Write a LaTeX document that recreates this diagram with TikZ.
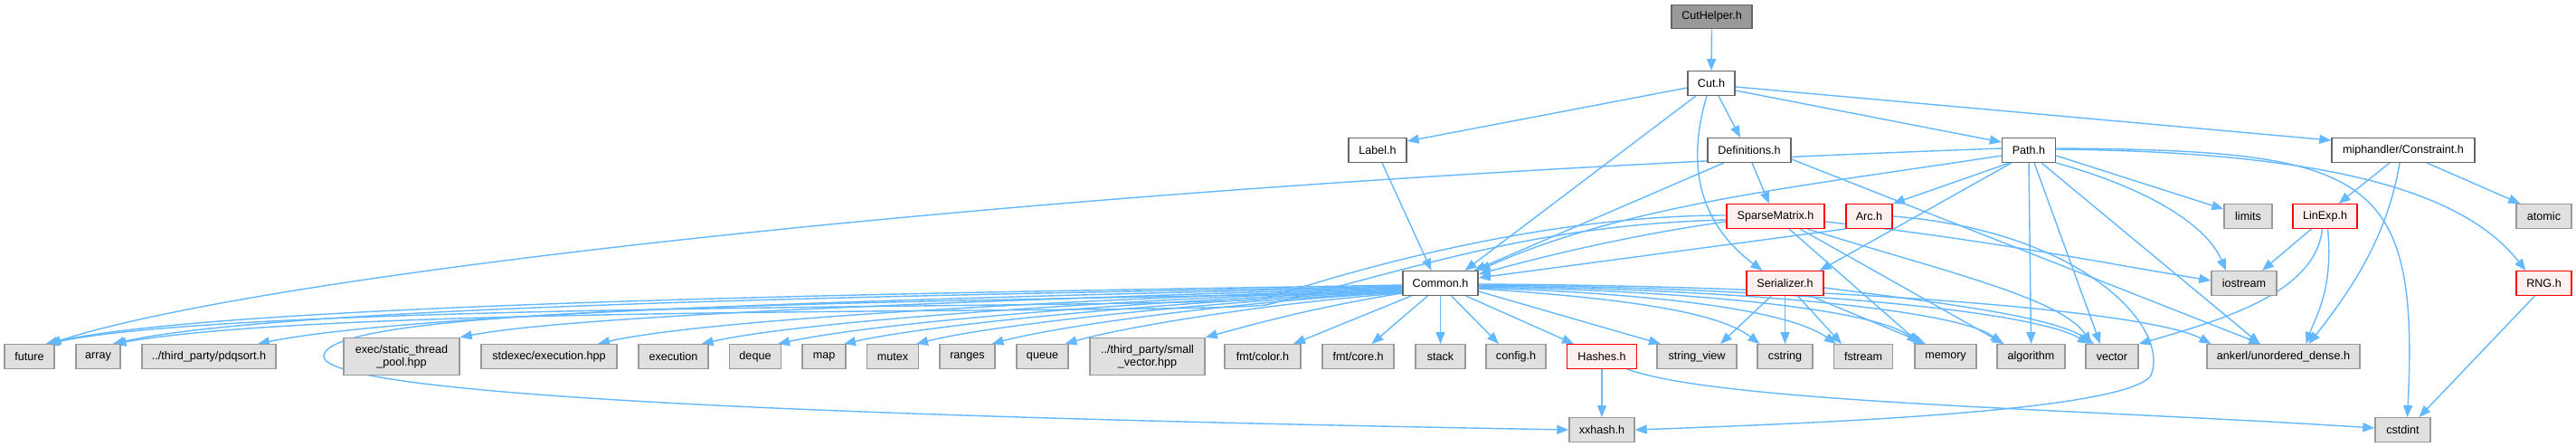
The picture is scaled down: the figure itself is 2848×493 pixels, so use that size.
\documentclass[tikz,border=0pt]{standalone}
\usepackage{fontspec}
\setmainfont{Liberation Sans}
\usetikzlibrary{arrows.meta,backgrounds}
\definecolor{edgeblue}{HTML}{63B8FF}
\definecolor{gfill}{HTML}{E0E0E0}
\definecolor{gdraw}{HTML}{999999}
\definecolor{rfill}{HTML}{FFF0F0}
\definecolor{rdraw}{HTML}{FF0000}
\definecolor{wdraw}{HTML}{666666}
\definecolor{rootfill}{HTML}{999999}
\begin{document}
\begin{tikzpicture}[x=1pt,y=-1pt,
  every node/.style={font=\fontsize{12.6}{14.5}\selectfont},
  hbox/.style={draw, line width=1.4pt, inner sep=0pt, minimum height=26.5pt, align=center, text=black},
  gbox/.style={hbox, fill=gfill, draw=gdraw},
  rbox/.style={hbox, fill=rfill, draw=rdraw},
  wbox/.style={hbox, fill=white, draw=wdraw},
  rootbox/.style={hbox, fill=rootfill, draw=wdraw},
  tall/.style={minimum height=41pt},
  link/.style={draw=edgeblue, line width=1.4pt, -{Triangle[length=13pt,width=10pt]}}
]
\useasboundingbox (0,0) rectangle (2848,493);
% row 1-2
\node[rootbox, minimum width=89pt] (cuthelper) at (1892.5,18.5) {CutHelper.h};
\node[wbox, minimum width=52pt] (cut) at (1892,92) {Cut.h};
% row 3
\node[wbox, minimum width=64pt] (label) at (1523,166) {Label.h};
\node[wbox, minimum width=92pt] (defs) at (1934,166) {Definitions.h};
\node[wbox, minimum width=59pt] (path) at (2243,166) {Path.h};
\node[wbox, minimum width=158pt] (constraint) at (2657,166) {miphandler/Constraint.h};
% row 4
\node[rbox, minimum width=108pt] (sparse) at (1963,239) {SparseMatrix.h};
\node[rbox, minimum width=51pt] (arc) at (2066.5,239) {Arc.h};
\node[gbox, minimum width=53pt] (limits) at (2485.5,239) {limits};
\node[rbox, minimum width=71pt] (linexp) at (2570.5,239) {LinExp.h};
\node[gbox, minimum width=61pt] (atomic) at (2812.5,239) {atomic};
% row 5
\node[wbox, minimum width=83pt] (common) at (1592.5,313) {Common.h};
\node[rbox, minimum width=85pt] (serializer) at (1973.5,313) {Serializer.h};
\node[gbox, minimum width=72pt] (iostream) at (2481,313) {iostream};
\node[rbox, minimum width=61pt] (rng) at (2812.5,313) {RNG.h};
% row 6
\node[gbox, minimum width=55pt] (future) at (32.5,394) {future};
\node[gbox, minimum width=49pt] (array) at (108.5,394) {array};
\node[gbox, minimum width=148pt] (pdqsort) at (231,394) {../third\_party/pdqsort.h};
\node[gbox, tall, minimum width=128pt] (execpool) at (444,394) {exec/static\_thread\\\_pool.hpp};
\node[gbox, minimum width=150pt] (stdexec) at (607,394) {stdexec/execution.hpp};
\node[gbox, minimum width=77pt] (execution) at (744.5,394) {execution};
\node[gbox, minimum width=57pt] (deque) at (835,394) {deque};
\node[gbox, minimum width=48pt] (map) at (911,394) {map};
\node[gbox, minimum width=57pt] (mutex) at (987,394) {mutex};
\node[gbox, minimum width=61pt] (ranges) at (1069.5,394) {ranges};
\node[gbox, minimum width=57pt] (queue) at (1152.5,394) {queue};
\node[gbox, tall, minimum width=127pt] (smallvec) at (1268.5,394) {../third\_party/small\\\_vector.hpp};
\node[gbox, minimum width=84pt] (fmtcolor) at (1396,394) {fmt/color.h};
\node[gbox, minimum width=79pt] (fmtcore) at (1501.5,394) {fmt/core.h};
\node[gbox, minimum width=55pt] (stack) at (1592.5,394) {stack};
\node[gbox, minimum width=66pt] (config) at (1676,394) {config.h};
\node[rbox, minimum width=77pt] (hashes) at (1771,394) {Hashes.h};
\node[gbox, minimum width=88pt] (stringview) at (1876,394) {string\_view};
\node[gbox, minimum width=61pt] (cstring) at (1973.5,394) {cstring};
\node[gbox, minimum width=65pt] (fstream) at (2060,394) {fstream};
\node[gbox, minimum width=68pt] (memory) at (2151,394) {memory};
\node[gbox, minimum width=75pt] (algorithm) at (2245.5,394) {algorithm};
\node[gbox, minimum width=58pt] (vector) at (2335,394) {vector};
\node[gbox, minimum width=169pt] (ankerl) at (2524.5,394) {ankerl/unordered\_dense.h};
% row 7
\node[gbox, minimum width=72pt] (xxhash) at (1771,475) {xxhash.h};
\node[gbox, minimum width=61pt] (cstdint) at (2656.5,475) {cstdint};

\begin{scope}[on background layer]
\fill[white] (0,0) rectangle (2848,493);
% CutHelper, Cut
\draw[link] (cuthelper.south) -- (cut.north);
\draw[link] ([yshift=-5pt]cut.west) -- ([yshift=-4pt]label.north east);
\draw[link] ([xshift=-17pt]cut.south) -- ([xshift=27pt]common.north);
\draw[link] ([xshift=8pt]cut.south) -- ([xshift=-10pt]defs.north);
\draw[link] ([xshift=-5pt]cut.south) .. controls (1868,170) and (1870,240) .. ([xshift=-25pt]serializer.north);
\draw[link] ([yshift=-8pt]cut.east) -- ([yshift=-5pt]path.north west);
\draw[link] ([yshift=-4pt]cut.east) -- ([yshift=-3pt]constraint.north west);
% Label, Definitions
\draw[link] ([xshift=5pt]label.south) -- ([xshift=-10pt]common.north);
\draw[link] ([xshift=-28pt]defs.south) -- ([xshift=37pt]common.north);
\draw[link] ([xshift=3pt]defs.south) -- ([xshift=-7pt]sparse.north);
\draw[link] ([yshift=-10pt]defs.east) -- ([xshift=-25pt]ankerl.north);
% Path
\draw[link] ([yshift=-6pt]path.west) .. controls (2000,205) and (1800,225) .. (common.north east);
\draw[link] ([yshift=2pt]path.west) .. controls (1200,200) and (300,300) .. ([xshift=22pt]future.north);
\draw[link] ([xshift=-21pt]path.south) -- (arc.north east);
\draw[link] ([xshift=-19pt]path.south) -- ([xshift=-5pt]serializer.north east);
\draw[link] (path.south) -- (algorithm.north);
\draw[link] ([xshift=6pt]path.south) -- ([xshift=-13pt]vector.north);
\draw[link] ([xshift=14pt]path.south) -- ([xshift=-26pt]ankerl.north);
\draw[link] (path.south east) .. controls (2380,210) and (2440,250) .. ([xshift=-20pt]iostream.north);
\draw[link] ([yshift=-6pt]path.east) -- ([yshift=-6pt]limits.north west);
\draw[link] ([yshift=2pt]path.east) .. controls (2620,166) and (2675,190) .. ([xshift=5pt]cstdint.north);
\draw[link] ([yshift=1pt]path.east) .. controls (2600,168) and (2730,220) .. ([xshift=-20pt]rng.north);
% Constraint
\draw[link] ([xshift=-15pt]constraint.south) -- ([xshift=15pt]linexp.north);
\draw[link] ([xshift=-4pt]constraint.south) .. controls (2640,260) and (2600,320) .. ([xshift=28pt]ankerl.north);
\draw[link] ([xshift=26pt]constraint.south) -- ([xshift=5pt]atomic.north west);
% LinExp, RNG
\draw[link] ([xshift=-15pt]linexp.south) -- ([xshift=20pt]iostream.north);
\draw[link] ([xshift=-3pt]linexp.south) .. controls (2560,320) and (2470,350) .. (vector.north east);
\draw[link] ([xshift=3pt]linexp.south) .. controls (2580,320) and (2560,350) .. ([xshift=25pt]ankerl.north);
\draw[link] ([xshift=-10pt]rng.south) -- ([xshift=18pt]cstdint.north);
% SparseMatrix
\draw[link] ([yshift=-6pt]sparse.west) .. controls (1800,260) and (1700,285) .. ([yshift=-4pt]common.north east);
\draw[link] ([yshift=1pt]sparse.west) .. controls (1720,238) and (1520,290) .. (1400,330) .. controls (1300,342) and (280,332) .. ([xshift=20pt]future.north);
\draw[link] ([yshift=-4pt]sparse.west) .. controls (1700,248) and (1570,295) .. (1400,337) .. controls (1300,348) and (380,335) .. ([xshift=18pt]array.north);
\draw[link] ([yshift=-6pt]sparse.east) .. controls (2200,265) and (2350,295) .. ([yshift=3pt]iostream.west);
\draw[link] ([xshift=15pt]sparse.south) -- ([xshift=-28pt]memory.north);
\draw[link] ([xshift=27pt]sparse.south) -- ([xshift=-30pt]algorithm.north);
\draw[link] ([xshift=35pt]sparse.south) .. controls (2150,300) and (2280,330) .. ([xshift=-23pt]vector.north);
% Arc
\draw[link] (arc.south west) -- ([yshift=-8pt]common.north east);
\draw[link] (arc.east) .. controls (2300,255) and (2400,360) .. (2378,415) .. controls (2350,455) and (2000,468) .. (xxhash.east);
% Serializer
\draw[link] ([xshift=-15pt]serializer.south) -- ([xshift=26pt]stringview.north);
\draw[link] (serializer.south) -- (cstring.north);
\draw[link] ([xshift=14pt]serializer.south) -- ([xshift=-24pt]fstream.north);
\draw[link] ([xshift=28pt]serializer.south) -- ([xshift=-22pt]memory.north);
\draw[link] ([yshift=-5pt]serializer.east) .. controls (2150,335) and (2270,350) .. ([xshift=-20pt]vector.north);
% Hashes
\draw[link] (hashes.south) -- (xxhash.north);
\draw[link] ([xshift=28pt]hashes.south) .. controls (1900,445) and (2300,452) .. ([yshift=2pt]cstdint.west);
% Common, left side
\draw[link] ([yshift=-2pt]common.west) .. controls (1150,322) and (260,332) .. ([xshift=18pt]future.north);
\draw[link] ([yshift=-3pt]common.west) .. controls (1150,325) and (330,334) .. ([xshift=16pt]array.north);
\draw[link] ([yshift=-4pt]common.west) .. controls (1200,326) and (480,340) .. ([xshift=54pt]pdqsort.north);
\draw[link] ([yshift=-5pt]common.west) .. controls (1250,327) and (650,345) .. (execpool.north east);
\draw[link] ([yshift=-6pt]common.west) .. controls (1270,328) and (790,350) .. ([xshift=54pt]stdexec.north);
\draw[link] ([yshift=-7pt]common.west) .. controls (1290,329) and (900,352) .. ([xshift=31pt]execution.north);
\draw[link] ([yshift=-8pt]common.west) .. controls (1310,330) and (980,354) .. ([xshift=25pt]deque.north);
\draw[link] ([yshift=-9pt]common.west) .. controls (1330,331) and (1040,356) .. ([xshift=22pt]map.north);
\draw[link] ([yshift=-10pt]common.west) .. controls (1350,332) and (1100,358) .. ([xshift=26pt]mutex.north);
\draw[link] ([yshift=-10pt]common.west) .. controls (1370,333) and (1170,360) .. ([xshift=27pt]ranges.north);
\draw[link] ([yshift=-11pt]common.west) .. controls (1400,335) and (1240,362) .. ([xshift=25pt]queue.north);
\draw[link] ([yshift=-11pt]common.west) .. controls (1450,340) and (1380,360) .. (smallvec.north east);
\draw[link] ([yshift=-10pt]common.west) .. controls (900,335) and (365,340) .. (358,393) .. controls (352,440) and (1000,462) .. (xxhash.west);
% Common, below
\draw[link] ([xshift=-32pt]common.south) -- ([xshift=34pt]fmtcolor.north);
\draw[link] ([xshift=-14pt]common.south) -- ([xshift=15pt]fmtcore.north);
\draw[link] (common.south) -- (stack.north);
\draw[link] ([xshift=12pt]common.south) -- ([xshift=-19pt]config.north);
\draw[link] ([xshift=28pt]common.south) -- ([xshift=-31pt]hashes.north);
% Common, right side
\draw[link] ([yshift=-9pt]common.east) -- ([xshift=-40pt]stringview.north);
\draw[link] ([yshift=-6pt]common.east) .. controls (1800,330) and (1900,345) .. ([xshift=-28pt]cstring.north);
\draw[link] ([yshift=-5pt]common.east) .. controls (1850,325) and (1980,345) .. ([xshift=-30pt]fstream.north);
\draw[link] ([yshift=-4pt]common.east) .. controls (1900,322) and (2080,345) .. ([xshift=-30pt]memory.north);
\draw[link] ([yshift=-3pt]common.east) .. controls (1950,320) and (2170,345) .. ([xshift=-32pt]algorithm.north);
\draw[link] ([yshift=-2pt]common.east) .. controls (2000,318) and (2250,345) .. ([xshift=-25pt]vector.north);
\draw[link] ([yshift=-1pt]common.east) .. controls (2050,316) and (2380,345) .. ([xshift=-80pt]ankerl.north);
\end{scope}
\end{tikzpicture}
\end{document}
